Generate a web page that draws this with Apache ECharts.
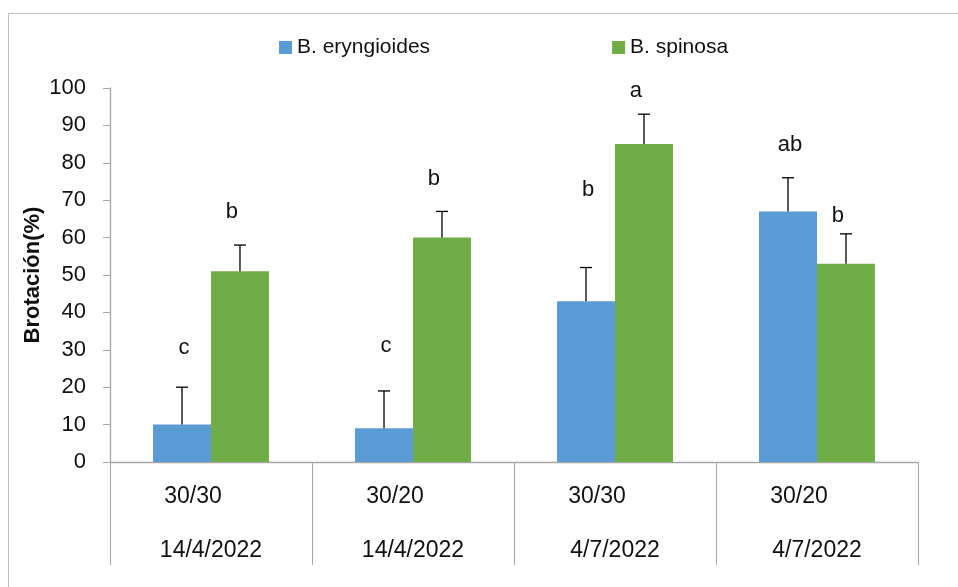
<!DOCTYPE html>
<html><head><meta charset="utf-8">
<script src="https://cdn.jsdelivr.net/npm/echarts@6/dist/echarts.min.js"></script>
<style>html,body{margin:0;padding:0;background:#fff}#c{width:958px;height:587px}</style>
</head><body><div id="c"></div>
<script>
const treatments = ['30/30', '30/20', '30/30', '30/20'];
const dates = ['14/4/2022', '14/4/2022', '4/7/2022', '4/7/2022'];
const seriesNames = ['B. eryngioides', 'B. spinosa'];
const eryngioides = [10, 9, 43, 67];
const eryngioidesErr = [10, 10, 9, 9];
const eryngioidesLetters = ['c', 'c', 'b', 'ab'];
const eryngioidesLetterY = [30.5, 31, 72.7, 84.8];
const spinosa = [51, 60, 85, 53];
const spinosaErr = [7, 7, 8, 8];
const spinosaLetters = ['b', 'b', 'a', 'b'];
const spinosaLetterY = [66.8, 75.7, 99.2, 65.8];
const yTicks = [0, 10, 20, 30, 40, 50, 60, 70, 80, 90, 100];

const FONT = '"Liberation Sans", "DejaVu Sans", sans-serif';
const colors = ['#5B9BD5', '#70AD47'];
const categories = treatments.map((t, i) => t + '|' + dates[i]);

function errSeries(vals, errs, letters, letterY, side, letterShift) {
  return {
    type: 'custom',
    z: 5,
    data: vals.map((v, i) => [i, v, v + errs[i], letterY[i], letters[i]]),
    renderItem: function (params, api) {
      const band = api.size([1, 0])[0];
      const off = side * band * 0.1435;
      const base = api.coord([api.value(0), api.value(1)]);
      const top = api.coord([api.value(0), api.value(2)]);
      const lab = api.coord([api.value(0), api.value(3)]);
      const x = base[0] + off;
      const ls = { stroke: '#000', lineWidth: 1.3 };
      return {
        type: 'group',
        children: [
          { type: 'line', shape: { x1: x, y1: base[1], x2: x, y2: top[1] }, style: ls },
          { type: 'line', shape: { x1: x - 6, y1: top[1], x2: x + 6, y2: top[1] }, style: ls },
          { type: 'text', style: { x: x + letterShift, y: lab[1], text: letters[params.dataIndex], fill: '#111',
            font: '22px ' + FONT, align: 'center', verticalAlign: 'middle' } }
        ]
      };
    }
  };
}

const chart = echarts.init(document.getElementById('c'));
chart.setOption({
  animation: false,
  color: colors,
  graphic: [{ type: 'rect', shape: { x: 8.5, y: 13.5, width: 960, height: 600 },
    style: { fill: 'none', stroke: '#bfbfbf', lineWidth: 1 }, silent: true }],
  legend: {
    top: 32, left: 274, itemGap: 182, itemWidth: 13, itemHeight: 13,
    icon: 'rect',
    data: seriesNames,
    textStyle: { fontFamily: FONT, fontSize: 21, color: '#111' }
  },
  grid: { left: 110, right: 40, top: 88, bottom: 125 },
  xAxis: {
    type: 'category',
    data: categories,
    axisLine: { lineStyle: { color: '#a6a6a6', width: 1.3 } },
    axisTick: { show: true, length: 103, interval: 0, lineStyle: { color: '#a6a6a6', width: 1 } },
    axisLabel: {
      interval: 0, margin: 8,
      formatter: function (v) { const p = v.split('|'); return '{a|' + p[0] + '}\n{b|' + p[1] + '}'; },
      rich: {
        a: { fontFamily: FONT, fontSize: 23, color: '#111', lineHeight: 54, padding: [0, 36, 0, 0] },
        b: { fontFamily: FONT, fontSize: 23, color: '#111', lineHeight: 54 }
      }
    }
  },
  yAxis: {
    type: 'value', min: 0, max: 100, interval: 10,
    name: 'Brotación(%)', nameLocation: 'middle', nameGap: 66, nameMoveOverlap: false,
    nameTextStyle: { fontFamily: FONT, fontSize: 22, fontWeight: 'bold', color: '#111' },
    axisLine: { show: true, lineStyle: { color: '#a6a6a6', width: 1.3 } },
    axisTick: { show: true, length: 7, lineStyle: { color: '#a6a6a6' } },
    axisLabel: { margin: 24, fontFamily: FONT, fontSize: 22, color: '#111',
      formatter: function (v) { return yTicks.indexOf(v) >= 0 ? String(v) : ''; } },
    splitLine: { show: false }
  },
  series: [
    { name: seriesNames[0], type: 'bar', data: eryngioides, barWidth: '28.7%', barGap: '0%', itemStyle: { color: colors[0] } },
    { name: seriesNames[1], type: 'bar', data: spinosa, barWidth: '28.7%', barGap: '0%', itemStyle: { color: colors[1] } },
    errSeries(eryngioides, eryngioidesErr, eryngioidesLetters, eryngioidesLetterY, -1, 2),
    errSeries(spinosa, spinosaErr, spinosaLetters, spinosaLetterY, 1, -8)
  ]
});
</script></body></html>
